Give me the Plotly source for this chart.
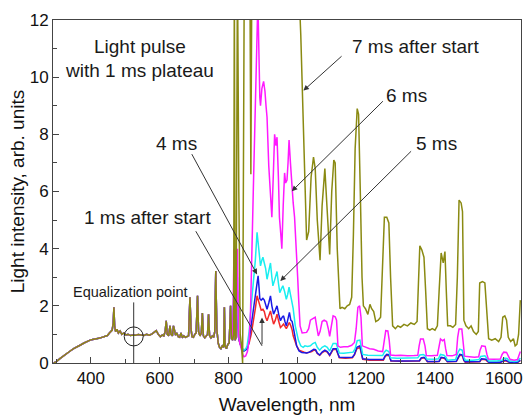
import plotly.graph_objects as go

# ---------------- data ----------------
# common part of all spectra (below ~812 nm the five curves coincide)
base_wl = [292, 300, 310, 320, 330, 340, 350, 360, 370, 380, 390, 398, 405, 412, 420, 428, 435, 442,
           448, 454, 458, 462, 465, 467, 469, 472, 476, 480, 485, 490, 496, 502, 508, 515, 522, 530,
           538, 546, 554, 562, 570, 578, 584, 590, 596, 602, 608, 612, 616, 619, 622, 626, 630, 633,
           637, 640, 643, 646, 650, 654, 658, 662, 666, 670, 675, 680, 684, 688, 691, 694, 698, 702,
           706, 710, 713, 717, 721, 724, 727, 731, 735, 739, 742, 745, 749, 753, 757, 760, 763, 766,
           770, 774, 778, 782, 786, 788, 790, 794, 798, 802, 806]
base_val = [0.00, 0.05, 0.15, 0.25, 0.33, 0.42, 0.50, 0.58, 0.63, 0.70, 0.76, 0.80, 0.82, 0.85, 0.86,
            0.88, 0.90, 0.94, 0.96, 1.05, 1.10, 1.15, 1.40, 1.95, 1.30, 1.10, 1.18, 1.05, 1.12, 1.00,
            1.05, 0.98, 1.00, 0.96, 0.98, 0.97, 1.00, 0.98, 0.96, 1.00, 0.97, 1.02, 1.06, 1.13, 1.00,
            0.92, 0.98, 0.95, 1.10, 1.48, 1.00, 0.95, 1.30, 1.00, 0.95, 1.30, 1.15, 0.98, 1.05, 0.92,
            0.90, 1.05, 0.88, 0.95, 0.90, 0.92, 0.95, 2.30, 1.20, 0.92, 0.90, 1.00, 1.05, 2.35, 1.10,
            0.95, 1.05, 1.75, 0.95, 0.88, 0.95, 1.00, 1.70, 0.95, 0.88, 0.95, 0.90, 1.10, 3.22, 1.20,
            0.70, 0.55, 0.50, 0.60, 0.55, 1.95, 0.60, 0.50, 0.65, 0.70, 2.00]

# 1 ms after start (red)
ms1_wl = [809, 812, 816, 819, 822, 826, 829, 833, 837, 841, 845, 850, 855, 860, 866, 872, 878, 883, 886,
          890, 895, 900, 904, 908, 912, 917, 922, 926, 931, 936, 941, 946, 951, 956, 960, 964, 968, 972,
          977, 981, 985, 988, 993, 998, 1005, 1013, 1020, 1027, 1035, 1042, 1048, 1053, 1058, 1065, 1072,
          1080, 1087, 1094, 1099, 1104, 1113, 1118, 1122, 1140, 1160, 1166, 1173, 1182, 1186, 1190, 1210,
          1230, 1250, 1255, 1260, 1267, 1272, 1300, 1330, 1355, 1360, 1368, 1373, 1378, 1400, 1412, 1418,
          1428, 1432, 1436, 1462, 1467, 1472, 1480, 1484, 1488, 1510, 1530, 1535, 1548, 1553, 1557, 1590,
          1598, 1605, 1612, 1617, 1640, 1648]
ms1_val = [0.85, 0.80, 2.20, 0.80, 0.90, 2.20, 0.90, 0.70, 0.55, 0.48, 0.45, 0.48, 0.55, 0.70, 1.00, 1.40,
           1.90, 2.35, 2.20, 2.00, 1.85, 1.88, 1.80, 1.60, 1.48, 1.65, 1.82, 1.60, 1.36, 1.50, 1.71, 1.45,
           1.24, 1.30, 1.36, 1.28, 1.20, 1.30, 1.42, 1.30, 1.15, 0.95, 0.75, 0.60, 0.45, 0.40, 0.38, 0.35,
           0.37, 0.40, 0.45, 0.45, 0.33, 0.27, 0.36, 0.42, 0.38, 0.26, 0.36, 0.47, 0.47, 0.28, 0.18, 0.17,
           0.18, 0.28, 0.50, 0.55, 0.38, 0.13, 0.10, 0.10, 0.10, 0.22, 0.27, 0.25, 0.07, 0.06, 0.06, 0.07,
           0.16, 0.18, 0.13, 0.04, 0.04, 0.05, 0.18, 0.16, 0.10, 0.04, 0.05, 0.18, 0.27, 0.25, 0.08, 0.03,
           0.03, 0.04, 0.13, 0.11, 0.05, 0.02, 0.02, 0.07, 0.08, 0.05, 0.02, 0.02, 0.08]

# 4 ms (blue)
ms4_wl = [809, 812, 816, 819, 822, 826, 829, 833, 837, 841, 845, 850, 855, 860, 866, 872, 878, 883, 886,
          889, 891, 895, 900, 904, 908, 912, 917, 922, 926, 931, 936, 941, 946, 951, 956, 960, 964, 968,
          972, 977, 981, 985, 991, 995, 998, 1005, 1013, 1020, 1027, 1035, 1042, 1048, 1053, 1058, 1065,
          1072, 1080, 1087, 1094, 1099, 1104, 1113, 1118, 1122, 1140, 1160, 1166, 1173, 1182, 1186, 1190,
          1210, 1230, 1250, 1255, 1260, 1267, 1272, 1300, 1330, 1355, 1360, 1368, 1373, 1378, 1400, 1412,
          1418, 1428, 1432, 1436, 1462, 1467, 1472, 1480, 1484, 1488, 1510, 1530, 1535, 1548, 1553, 1557,
          1590, 1598, 1605, 1612, 1617, 1640, 1648]
ms4_val = [0.85, 0.80, 2.50, 0.80, 0.90, 2.50, 0.90, 0.70, 0.55, 0.45, 0.42, 0.45, 0.50, 0.80, 1.30, 1.80,
           2.30, 2.90, 3.05, 2.60, 2.25, 2.20, 2.26, 2.20, 2.00, 1.88, 2.10, 2.35, 2.00, 1.71, 1.85, 2.00,
           1.70, 1.48, 1.60, 1.65, 1.45, 1.30, 1.50, 1.77, 1.50, 1.45, 1.07, 0.80, 0.60, 0.42, 0.37, 0.36,
           0.35, 0.38, 0.42, 0.48, 0.47, 0.35, 0.28, 0.38, 0.45, 0.40, 0.28, 0.38, 0.50, 0.50, 0.30, 0.20,
           0.19, 0.20, 0.30, 0.55, 0.60, 0.40, 0.15, 0.12, 0.12, 0.12, 0.25, 0.30, 0.28, 0.08, 0.07, 0.07,
           0.08, 0.18, 0.20, 0.15, 0.05, 0.05, 0.06, 0.20, 0.18, 0.12, 0.05, 0.06, 0.20, 0.30, 0.28, 0.10,
           0.04, 0.04, 0.05, 0.15, 0.13, 0.06, 0.03, 0.03, 0.08, 0.10, 0.06, 0.02, 0.03, 0.10]

# 5 ms (cyan)
ms5_wl = [809, 812, 816, 819, 822, 826, 829, 833, 837, 841, 845, 850, 854, 860, 866, 872, 878, 883, 886,
          890, 893, 897, 900, 904, 908, 912, 917, 922, 926, 929, 934, 938, 941, 945, 949, 954, 958, 963,
          968, 972, 976, 980, 983, 988, 994, 998, 1003, 1010, 1017, 1022, 1030, 1038, 1045, 1052, 1058,
          1065, 1072, 1080, 1087, 1094, 1099, 1104, 1113, 1118, 1122, 1135, 1150, 1162, 1168, 1174, 1182,
          1186, 1190, 1205, 1225, 1248, 1253, 1258, 1266, 1271, 1290, 1320, 1350, 1356, 1366, 1372, 1376,
          1400, 1410, 1416, 1426, 1432, 1436, 1460, 1466, 1472, 1479, 1484, 1488, 1510, 1528, 1533, 1545,
          1552, 1556, 1580, 1595, 1600, 1610, 1615, 1630, 1640, 1648]
ms5_val = [0.85, 0.80, 3.00, 0.80, 0.90, 3.00, 0.95, 0.75, 0.60, 0.50, 0.45, 0.50, 0.60, 1.10, 2.00, 2.80,
           3.60, 4.57, 4.20, 3.50, 3.40, 3.60, 3.70, 3.50, 3.30, 2.93, 3.20, 3.50, 3.00, 2.70, 2.90, 3.10,
           3.20, 2.80, 2.46, 2.60, 2.70, 2.50, 2.23, 2.40, 2.65, 2.40, 2.23, 1.90, 1.30, 1.10, 0.80, 0.60,
           0.55, 0.60, 0.58, 0.60, 0.68, 0.72, 0.55, 0.45, 0.55, 0.60, 0.55, 0.42, 0.55, 0.68, 0.68, 0.45,
           0.35, 0.34, 0.35, 0.38, 0.50, 0.78, 0.80, 0.60, 0.30, 0.27, 0.26, 0.26, 0.38, 0.45, 0.40, 0.18,
           0.17, 0.17, 0.18, 0.28, 0.30, 0.25, 0.14, 0.13, 0.15, 0.30, 0.27, 0.20, 0.10, 0.12, 0.35, 0.48,
           0.45, 0.20, 0.10, 0.10, 0.12, 0.23, 0.25, 0.15, 0.07, 0.07, 0.10, 0.17, 0.16, 0.08, 0.05, 0.07,
           0.17]

# 6 ms (magenta)
ms6_wl = [809, 812, 816, 819, 822, 826, 829, 833, 837, 841, 845, 850, 855, 860, 864, 868, 872, 876, 880,
          884, 886, 889, 891, 893, 897, 902, 906, 909, 912, 917, 922, 926, 930, 934, 938, 941, 945, 948,
          952, 955, 959, 963, 966, 970, 973, 976, 980, 984, 988, 992, 995, 998, 1001, 1004, 1008, 1014,
          1020, 1027, 1033, 1038, 1045, 1052, 1056, 1061, 1066, 1072, 1078, 1085, 1090, 1094, 1099, 1104,
          1110, 1114, 1118, 1125, 1135, 1147, 1158, 1166, 1171, 1176, 1181, 1185, 1189, 1198, 1210, 1222,
          1235, 1248, 1253, 1257, 1263, 1267, 1271, 1285, 1300, 1320, 1340, 1350, 1354, 1358, 1366, 1371,
          1375, 1390, 1407, 1411, 1416, 1422, 1427, 1431, 1435, 1450, 1462, 1466, 1470, 1478, 1482, 1486,
          1500, 1515, 1527, 1531, 1536, 1546, 1551, 1555, 1570, 1590, 1595, 1600, 1608, 1613, 1618, 1630,
          1640, 1645, 1648]
ms6_val = [0.85, 0.80, 4.00, 0.80, 0.90, 4.00, 1.00, 0.70, 0.50, 0.30, 0.22, 0.25, 0.40, 0.80, 1.80, 3.50,
           6.00, 8.00, 10.50, 12.00, 12.30, 10.00, 9.30, 9.00, 9.60, 9.85, 9.50, 9.00, 8.60, 6.90, 5.70,
           5.10, 6.50, 8.00, 7.60, 7.90, 6.50, 5.10, 4.50, 4.00, 5.50, 6.65, 6.30, 6.40, 7.00, 7.80, 7.00,
           6.20, 5.60, 5.10, 4.50, 3.86, 3.00, 2.20, 1.30, 1.05, 1.05, 1.07, 1.20, 1.50, 1.55, 1.60, 1.30,
           0.95, 1.10, 1.45, 1.50, 1.45, 1.20, 0.93, 1.30, 1.65, 1.62, 1.50, 0.60, 0.55, 0.57, 0.57, 0.62,
           0.72, 1.20, 1.95, 2.00, 1.60, 0.60, 0.55, 0.50, 0.48, 0.42, 0.40, 0.90, 1.13, 1.12, 0.80, 0.28,
           0.26, 0.27, 0.25, 0.26, 0.27, 0.60, 0.84, 0.84, 0.60, 0.26, 0.25, 0.27, 0.60, 0.84, 0.78, 0.82,
           0.50, 0.26, 0.25, 0.30, 0.90, 1.19, 1.19, 0.80, 0.24, 0.22, 0.20, 0.22, 0.45, 0.60, 0.58, 0.30,
           0.14, 0.13, 0.14, 0.30, 0.38, 0.37, 0.25, 0.13, 0.10, 0.12, 0.30, 0.40]

# 7 ms after start (olive)
ms7_wl = [809, 812, 815, 817, 819, 822, 826, 830, 834, 838, 841, 846, 858, 862, 865, 868, 900, 950, 1000,
          1005, 1010, 1016, 1022, 1027, 1033, 1040, 1047, 1052, 1058, 1066, 1072, 1080, 1086, 1094, 1100,
          1106, 1110, 1116, 1124, 1130, 1138, 1145, 1152, 1158, 1163, 1168, 1174, 1178, 1183, 1188, 1192,
          1198, 1205, 1211, 1216, 1222, 1228, 1235, 1242, 1248, 1253, 1260, 1266, 1271, 1277, 1285, 1292,
          1300, 1310, 1320, 1330, 1340, 1348, 1352, 1356, 1362, 1368, 1373, 1378, 1385, 1392, 1400, 1407,
          1412, 1418, 1424, 1429, 1433, 1437, 1445, 1452, 1460, 1465, 1470, 1476, 1480, 1484, 1490, 1498,
          1505, 1512, 1520, 1526, 1530, 1538, 1545, 1550, 1556, 1565, 1575, 1585, 1592, 1597, 1603, 1608,
          1613, 1620, 1628, 1633, 1638, 1643, 1648]
ms7_val = [0.85, 0.80, 1.00, 14.0, 0.80, 0.90, 14.0, 6.00, 1.00, 0.60, 0.00, 14.0, 14.0, 14.0, 6.60, 14.0,
           16.0, 16.0, 14.0, 13.0, 11.5, 9.00, 6.00, 4.30, 4.60, 6.50, 7.20, 6.80, 5.00, 3.60, 5.50, 6.80,
           5.50, 3.80, 6.00, 7.10, 7.00, 4.00, 1.90, 1.95, 1.90, 2.00, 2.05, 2.30, 4.50, 7.50, 8.90, 8.70,
           6.00, 3.00, 2.00, 1.90, 1.70, 2.05, 1.90, 1.80, 1.45, 1.50, 1.60, 3.50, 5.10, 5.10, 4.90, 3.00,
           1.30, 1.20, 1.30, 1.25, 1.35, 1.30, 1.40, 1.35, 1.45, 2.80, 4.10, 3.95, 3.70, 2.50, 1.20, 1.15,
           1.20, 1.15, 1.30, 2.50, 3.85, 3.50, 3.90, 2.50, 1.30, 1.30, 1.25, 1.35, 3.00, 5.70, 5.60, 5.30,
           1.50, 1.30, 1.20, 1.30, 1.10, 1.00, 1.10, 2.80, 2.85, 2.80, 1.80, 0.85, 0.80, 0.85, 0.75, 0.90,
           1.60, 1.65, 1.50, 0.90, 0.75, 0.85, 0.60, 0.65, 1.00, 2.20]

series_names = ["1 ms after start", "4 ms", "5 ms", "6 ms", "7 ms after start"]
series_wl = [ms1_wl, ms4_wl, ms5_wl, ms6_wl, ms7_wl]
series_val = [ms1_val, ms4_val, ms5_val, ms6_val, ms7_val]
series_colors = ["#f22a2a", "#1a1ae6", "#19eef0", "#ff19ff", "#8a8a12"]

x_tick_vals = [400, 600, 800, 1000, 1200, 1400, 1600]
y_tick_vals = [0, 2, 4, 6, 8, 10, 12]

# ---------------- figure ----------------
FONT = "Arial, Liberation Sans, Helvetica, sans-serif"
fig = go.Figure()
for name, wl, val, col in zip(series_names, series_wl, series_val, series_colors):
    fig.add_trace(go.Scatter(x=base_wl + wl, y=base_val + val, mode="lines", name=name,
                             line=dict(color=col, width=1.5), showlegend=False))

axis_common = dict(showgrid=False, zeroline=False, showline=True, linecolor="#444", linewidth=1,
                   mirror=True, ticks="inside", ticklen=6, tickcolor="#444",
                   tickfont=dict(family=FONT, size=17, color="#111"))
fig.update_xaxes(range=[290, 1650], tickvals=x_tick_vals,
                 minor=dict(dtick=100, tick0=0, ticks="inside", ticklen=4, tickcolor="#444"),
                 title=dict(text="Wavelength, nm", font=dict(family=FONT, size=19, color="#111"),
                            standoff=10),
                 **axis_common)
fig.update_yaxes(range=[0, 12], tickvals=y_tick_vals,
                 minor=dict(dtick=1, tick0=0, ticks="inside", ticklen=4, tickcolor="#444"),
                 title=dict(text="Light intensity, arb. units", font=dict(family=FONT, size=19, color="#111"),
                            standoff=0),
                 **axis_common)

txt = dict(family=FONT, size=19, color="#1a1a1a")
labels = [
    ("Light pulse", 542, 11.06),
    ("with 1 ms plateau", 542, 10.22),
    ("7 ms after start", 1344, 11.06),
    ("6 ms", 1318, 9.35),
    ("5 ms", 1404, 7.67),
    ("4 ms", 648, 7.67),
    ("1 ms after start", 565, 5.09),
]
annotations = []
for t, x, y in labels:
    annotations.append(dict(text=t, x=x, y=y, xref="x", yref="y", showarrow=False, font=txt,
                            xanchor="center", yanchor="middle"))
annotations.append(dict(text="Equalization point", x=513, y=2.48, xref="x", yref="y", showarrow=False,
                        font=dict(family=FONT, size=14.5, color="#1a1a1a"),
                        xanchor="center", yanchor="middle"))

# arrows: (tip x, tip y, tail x, tail y)
arrows = [
    (1017.7, 9.53, 1133, 10.78),
    (984, 6.01, 1253, 9.21),
    (950.5, 2.87, 1335, 7.46),
    (883, 3.1, 691, 7.36),
    (897.4, 1.59, 897.4, 0.6),
]
for x, y, ax, ay in arrows:
    annotations.append(dict(text="", x=x, y=y, ax=ax, ay=ay, xref="x", yref="y", axref="x", ayref="y",
                            showarrow=True, arrowhead=2, arrowsize=1.1, arrowwidth=1, arrowcolor="#333",
                            standoff=0, startstandoff=0))

shapes = [
    dict(type="line", x0=705, y0=4.61, x1=897.4, y1=0.6, xref="x", yref="y",
         line=dict(color="#333", width=1)),
    dict(type="line", x0=524.5, y0=0, x1=524.5, y1=2.12, xref="x", yref="y",
         line=dict(color="#333", width=1)),
    dict(type="circle", xref="x", yref="y", xsizemode="pixel", ysizemode="pixel",
         xanchor=524.5, yanchor=0.93, x0=-9.5, x1=9.5, y0=-9.5, y1=9.5,
         line=dict(color="#222", width=1)),
]

fig.update_layout(width=526, height=415, margin=dict(l=53, r=3, t=20, b=51),
                  paper_bgcolor="white", plot_bgcolor="white",
                  annotations=annotations, shapes=shapes, showlegend=False)

fig.write_html("out.html", config={"displayModeBar": False},
               post_script="document.body.style.margin='0px';")
